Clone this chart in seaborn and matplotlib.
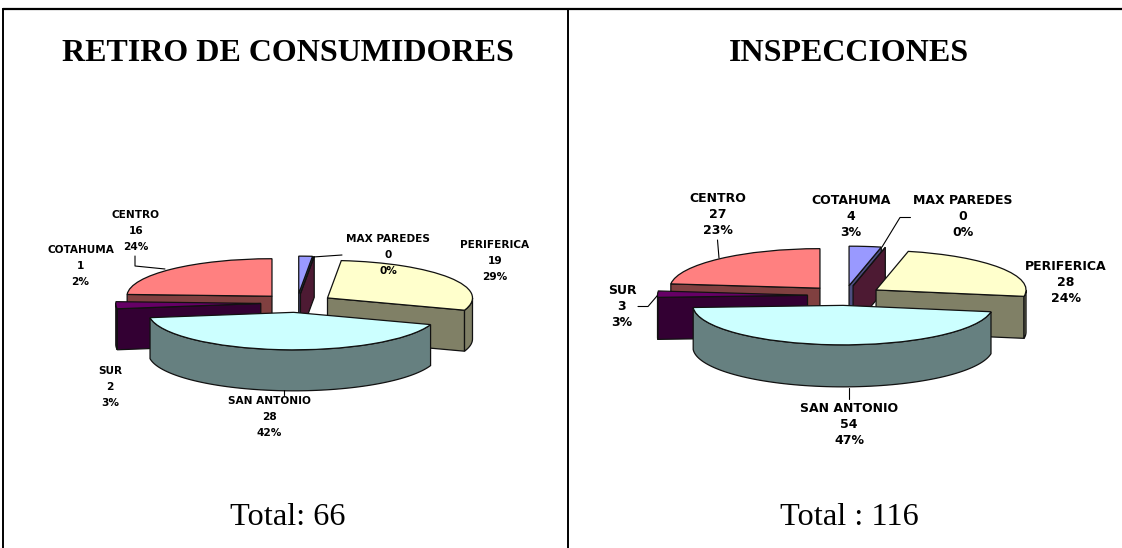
import numpy as np
import matplotlib
matplotlib.use('Agg')
import matplotlib.pyplot as plt
import seaborn as sns

sns.set_theme(style='white')

# Data
zones = ['COTAHUMA', 'MAX PAREDES', 'PERIFERICA', 'SAN ANTONIO', 'SUR', 'CENTRO']
retiro_values = [1, 0, 19, 28, 2, 16]
retiro_pct = [2, 0, 29, 42, 3, 24]
inspec_values = [4, 0, 28, 54, 3, 27]
inspec_pct = [3, 0, 24, 47, 3, 23]
slice_hex = ['#9999FF', '#993366', '#FFFFCC', '#CCFFFF', '#660066', '#FF8080']
titles = ['RETIRO DE CONSUMIDORES', 'INSPECCIONES']
totals = ['Total: 66', 'Total : 116']

W, H = 1122, 548
palette = sns.color_palette(slice_hex)
# back to front, same order as the original chart engine paints them
draw_order = [0, 1, 5, 2, 4, 3]


def draw_pie(fig, values, cx, cy, a, b, depth):
    ax = fig.add_axes([0, 0, 1, 1])
    ax.patch.set_alpha(0)
    wedges, _ = ax.pie(values, colors=palette, startangle=90, counterclock=False,
                       explode=[0.25] * len(values), radius=1,
                       wedgeprops={'linewidth': 0.9, 'edgecolor': '#111111'})
    d = depth / b
    edges = np.cumsum([0] + list(values)) / sum(values) * 2 * np.pi
    for rank, i in enumerate(draw_order):
        t0, t1 = edges[i], edges[i + 1]
        mid = (t0 + t1) / 2
        ox, oy = 0.25 * np.sin(mid), 0.25 * np.cos(mid)
        dark = tuple(c * 0.5 for c in palette[i])
        z = 10 + rank * 5
        wedges[i].set_zorder(z + 3)
        # cut faces, only those turned to the viewer
        for t, seen in ((t0, np.sin(t0) < -1e-9), (t1, np.sin(t1) > 1e-9)):
            if not seen:
                continue
            px = [ox, ox + np.sin(t), ox + np.sin(t), ox]
            py = [oy, oy + np.cos(t), oy + np.cos(t) - d, oy - d]
            ax.fill(px, py, color=dark, ec='#111111', lw=0.9, zorder=z)
        # outer rim, only the part facing the viewer
        lo, hi = max(t0, np.pi / 2), min(t1, 3 * np.pi / 2)
        if hi > lo:
            ts = np.linspace(lo, hi, 80)
            px = np.r_[ox + np.sin(ts), ox + np.sin(ts[::-1])]
            py = np.r_[oy + np.cos(ts), oy + np.cos(ts[::-1]) - d]
            ax.fill(px, py, color=dark, ec='#111111', lw=0.9, zorder=z + 1)
    ax.set_aspect('auto')
    ax.set_xlim(-cx / a, (W - cx) / a)
    ax.set_ylim((cy - H) / b, cy / b)
    ax.set_axis_off()
    return ax


def draw_labels(page, values, pct, spots, size, step):
    for name, val, p, (x, y) in zip(zones, values, pct, spots):
        for k, line in enumerate([name, str(val), f'{p}%']):
            page.text(x, y + k * step, line, ha='center', va='center', fontsize=size,
                      fontweight='bold', family=['DejaVu Sans'], color='black')


fig = plt.figure(figsize=(W / 100, H / 100), dpi=100, facecolor='white')

draw_pie(fig, retiro_values, 297, 303, 145, 37.5, 41)
draw_pie(fig, inspec_values, 845, 295.5, 150, 39.5, 42)

page = fig.add_axes([0, 0, 1, 1], zorder=50)
page.patch.set_alpha(0)
page.set_xlim(0, W)
page.set_ylim(H, 0)
page.set_axis_off()

# table frame
page.plot([3, W], [9, 9], color='black', lw=1.6)
page.plot([3.5, 3.5], [9, H], color='black', lw=1.4)
page.plot([568.5, 568.5], [9, H], color='black', lw=1.4)

page.text(288, 61, titles[0], ha='center', va='baseline', fontsize=23, fontweight='bold',
          family='Liberation Serif', color='black')
page.text(848.5, 61, titles[1], ha='center', va='baseline', fontsize=23, fontweight='bold',
          family='Liberation Serif', color='black')
page.text(287.5, 525, totals[0], ha='center', va='baseline', fontsize=23.3,
          family='Liberation Serif', color='black')
page.text(849, 525, totals[1], ha='center', va='baseline', fontsize=23.3,
          family='Liberation Serif', color='black')

draw_labels(page, retiro_values, retiro_pct,
            [(80.5, 250), (388, 239), (495, 245), (269.5, 401.5), (110, 371.5), (136, 215)], 7.6, 16)
draw_labels(page, inspec_values, inspec_pct,
            [(851, 201), (963, 201), (1066, 267), (849, 408), (622, 290), (717.5, 198)], 9, 16)

# leader lines
leaders = [
    ([135, 135, 165], [256, 266, 269]),
    ([313, 342], [257, 255]),
    ([717.5, 719], [240, 258]),
    ([882, 900, 910.5], [247, 217.5, 217.5]),
    ([638, 648, 657], [306.5, 306.5, 296]),
    ([849, 849], [388, 399]),
    ([284, 284], [390, 395]),
]
for xs, ys in leaders:
    page.plot(xs, ys, color='black', lw=0.8)

fig.savefig('out.png', dpi=100)
